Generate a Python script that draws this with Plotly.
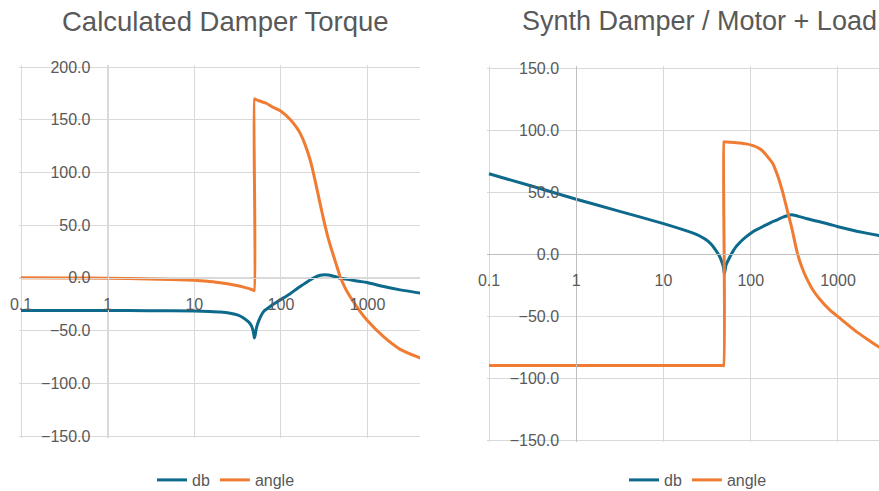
import plotly.graph_objects as go

# ---------------- data ----------------
# Left chart: "Calculated Damper Torque"
freq_left = [0.1, 0.3, 1, 3, 10, 15, 20, 26, 32, 37, 42, 45, 47.5, 49.2, 49.5, 50.5, 52, 55,
             63, 68.7, 80, 100, 128, 152, 167, 190, 217, 230, 250, 272, 300, 324, 350, 387,
             430, 483, 550, 630, 822, 982, 1528, 2380, 3706, 4050]
db_left = [-31.0, -31.0, -31.0, -31.1, -31.4, -31.8, -32.3, -33.5, -35.3, -38.0, -41.5, -44.5,
           -49.5, -56.0, -57.0, -54.0, -48.0, -41.5, -32.0, -29.5, -25.5, -20.5, -15.0, -10.5,
           -8.2, -5.0, -2.0, -0.8, 0.8, 2.0, 2.7, 2.9, 2.7, 2.0, 1.0, -0.3, -1.0, -1.9, -3.4,
           -4.4, -8.2, -11.4, -14.0, -14.5]
angle_left = [0.0, -0.1, -0.3, -1.0, -2.3, -3.5, -4.6, -6.0, -7.5, -8.8, -10.0, -10.8, -11.5,
              -12.0, 169.8, 169.4, 169.0, 168.2, 166.5, 165.4, 162.0, 158.0, 150.2, 142.5,
              137.0, 126.4, 112.0, 104.0, 91.0, 77.0, 61.0, 49.0, 38.0, 26.0, 14.0, 1.0, -9.5,
              -18.0, -32.0, -40.0, -55.8, -67.8, -74.8, -76.0]

# Right chart: "Synth Damper / Motor + Load"
freq_right = [0.1, 0.3, 1, 3, 10, 21.5, 26, 30.8, 35, 39.6, 44, 47, 48.8, 49.3, 50, 52, 57, 63,
              68, 74, 78, 89, 106, 126, 138, 172, 179, 205, 214, 234, 267, 292, 305, 336, 363,
              400, 433, 516, 619, 810, 1000, 1640, 2950, 3200]
db_right = [64.7, 55.0, 44.2, 34.8, 24.5, 17.0, 14.5, 11.5, 8.0, 3.2, -2.0, -7.0, -11.0, -14.0,
            -16.0, -9.0, -3.0, 2.5, 5.9, 8.8, 10.5, 14.0, 18.0, 20.8, 22.2, 25.6, 26.1, 27.8,
            28.5, 29.7, 31.0, 31.6, 31.5, 30.8, 30.1, 29.3, 28.6, 27.2, 26.0, 23.8, 22.0, 18.4,
            14.8, 14.2]
angle_right = [-90, -90, -90, -90, -90, -90, -90, -90, -90, -90, -90, -90, -90, 90.4, 90.4,
               90.3, 90.2, 90.0, 89.8, 89.6, 89.4, 88.8, 87.4, 85.0, 82.8, 74.7, 73.0, 62.5,
               58.5, 49.1, 32.9, 22.5, 16.5, 3.0, -5.5, -13.5, -19.0, -29.0, -36.5, -45.3,
               -50.5, -62.8, -75.0, -76.0]

x_tick_vals = [0.1, 1, 10, 100, 1000]
x_tick_text = ["0.1", "1", "10", "100", "1000"]
y_ticks_left = [-150, -100, -50, 0, 50, 100, 150, 200]
y_ticks_right = [-150, -100, -50, 0, 50, 100, 150]

titles = ["Calculated Damper Torque", "Synth Damper / Motor + Load"]
series_names = ["db", "angle"]

# ---------------- style / layout geometry ----------------
W, H = 879, 491
BLUE = "#0E6A8C"
ORANGE = "#F07B32"
GRID = "#D9D9D9"
AXIS_R = "#BFBFBF"
TXT = "#595959"
FONT = "Liberation Sans, Arial, sans-serif"
PAD = 2  # px of padding so edge gridlines are drawn


def geometry(px_x0, px_x1, lx0, lx1, px_ytop, px_ybot, vtop, vbot, right_pad=True):
    """Return domains and ranges from pixel anchors (log10 x, linear y)."""
    dpx = (px_x1 - px_x0) / (lx1 - lx0)
    rpad = PAD if right_pad else 0
    xdom = [(px_x0 - PAD) / W, min(1.0, (px_x1 + rpad) / W)]
    xrng = [lx0 - PAD / dpx, lx1 + rpad / dpx]
    upx = (vtop - vbot) / (px_ybot - px_ytop)
    ydom = [1 - (px_ybot + PAD) / H, 1 - (px_ytop - PAD) / H]
    yrng = [vbot - PAD * upx, vtop + PAD * upx]
    return xdom, xrng, ydom, yrng


xL, xrangeL, yL, yrangeL = geometry(21, 420, -1, 3.605, 67, 436, 200, -150, right_pad=False)
xR, xrangeR, yR, yrangeR = geometry(489, 879, -1, 3.47, 68, 440, 150, -150, right_pad=False)


def frac(v, rng, dom):
    return dom[0] + (v - rng[0]) / (rng[1] - rng[0]) * (dom[1] - dom[0])


LINE = dict(width=3, shape="spline", smoothing=0.5)

fig = go.Figure()
fig.add_trace(go.Scatter(x=freq_left, y=db_left, name=series_names[0], mode="lines",
                         line=dict(LINE, color=BLUE), xaxis="x", yaxis="y", legend="legend"))
fig.add_trace(go.Scatter(x=freq_left, y=angle_left, name=series_names[1], mode="lines",
                         line=dict(LINE, color=ORANGE), xaxis="x", yaxis="y", legend="legend"))
fig.add_trace(go.Scatter(x=freq_right, y=db_right, name=series_names[0], mode="lines",
                         line=dict(LINE, color=BLUE), xaxis="x2", yaxis="y2", legend="legend2"))
fig.add_trace(go.Scatter(x=freq_right, y=angle_right, name=series_names[1], mode="lines",
                         line=dict(LINE, color=ORANGE), xaxis="x2", yaxis="y2", legend="legend2"))

tickfont = dict(family=FONT, size=16, color=TXT)


def xaxis(dom, rng, ydom, yrng, linecolor):
    return dict(type="log", domain=dom, range=rng, anchor="free",
                position=frac(0, yrng, ydom), tickvals=x_tick_vals, ticktext=x_tick_text,
                showgrid=True, gridcolor=GRID, gridwidth=1, showline=True, linecolor=linecolor,
                linewidth=1, ticks="", ticklabelstandoff=12, tickfont=tickfont, zeroline=False,
                automargin=False, fixedrange=True)


def yaxis(dom, rng, xdom, xrng, ticks, linecolor):
    return dict(domain=dom, range=rng, anchor="free", position=frac(0, xrng, xdom),
                side="left", tickvals=ticks, tickformat=".1f", showgrid=True, gridcolor=GRID,
                gridwidth=1, showline=True, linecolor=linecolor, linewidth=1, ticks="",
                ticklabelstandoff=14, tickfont=tickfont, zeroline=False, automargin=False,
                fixedrange=True)


legend_common = dict(orientation="h", xanchor="center", yanchor="middle",
                     y=1 - 480 / H, font=dict(family=FONT, size=16, color=TXT),
                     bgcolor="rgba(0,0,0,0)", itemwidth=30, tracegroupgap=0)

fig.update_layout(
    width=W, height=H,
    margin=dict(l=0, r=0, t=0, b=0, pad=0, autoexpand=False),
    paper_bgcolor="white", plot_bgcolor="white",
    font=dict(family=FONT, color=TXT),
    xaxis=xaxis(xL, xrangeL, yL, yrangeL, GRID),
    yaxis=yaxis(yL, yrangeL, xL, xrangeL, y_ticks_left, GRID),
    xaxis2=xaxis(xR, xrangeR, yR, yrangeR, AXIS_R),
    yaxis2=yaxis(yR, yrangeR, xR, xrangeR, y_ticks_right, AXIS_R),
    legend=dict(legend_common, x=226 / W),
    legend2=dict(legend_common, x=698 / W),
    showlegend=True,
    annotations=[
        dict(text=titles[0], x=226 / W, y=1 - 21 / H, xref="paper", yref="paper",
             xanchor="center", yanchor="middle", showarrow=False,
             font=dict(family=FONT, size=27.5, color=TXT)),
        dict(text=titles[1], x=699 / W, y=1 - 21 / H, xref="paper", yref="paper",
             xanchor="center", yanchor="middle", showarrow=False,
             font=dict(family=FONT, size=27, color=TXT)),
    ],
)

fig.write_html("out.html", config={"displayModeBar": False})
